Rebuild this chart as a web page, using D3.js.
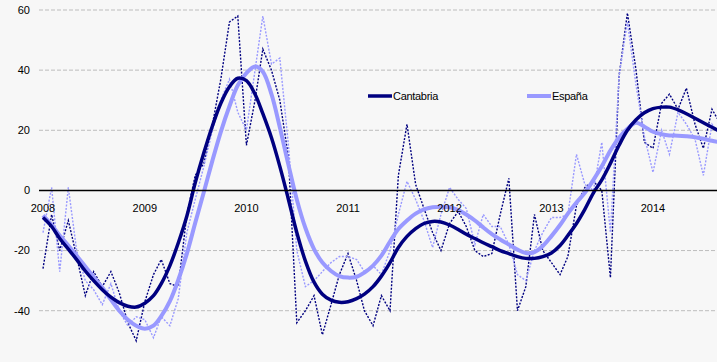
<!DOCTYPE html>
<html>
<head>
<meta charset="utf-8">
<script src="https://cdn.jsdelivr.net/npm/d3@7"></script>
<style>
  body { margin: 0; background: #f7f7f7; }
  svg { display: block; font-family: "Liberation Sans", Arial, sans-serif; }
</style>
</head>
<body>
<div id="chart"></div>
<script>
// monthly series, Jan 2008 .. Sep 2014
var startMonth = new Date(2008, 0, 1);
var yearTicks = [2008, 2009, 2010, 2011, 2012, 2013, 2014];
var yTicks = [60, 40, 20, 0, -20, -40];
var seriesNames = ["Cantabria", "España"];

var cantabriaRaw = [-26, -8, -20, -10, -22, -35, -27, -32, -27, -34, -44, -50,
  -37, -28, -23, -31, -32, -8, 5, 9, 22, 37, 56, 58,
  15, 30, 47, 40, 30, 11, -44, -40, -35, -48, -38, -28,
  -21, -30, -40, -45, -35, -40, 5, 22, 2, -6, -14, -20,
  -11, -7, -12, -20, -22, -21, -8, 4, -40, -32, -8, -20,
  -24, -28, -22, -5, 1, 3, 0, -29, 38, 59, 40, 16,
  14, 29, 32, 27, 34, 22, 14, 27, 22];

var espanaRaw = [-14, 1, -27, 1, -20, -30, -33, -38, -31, -40, -45, -42,
  -43, -49, -42, -45, -36, -14, -3, 8, 20, 30, 37, 26,
  20, 40, 58, 42, 44, 15, -20, -32, -30, -27, -24, -22,
  -22, -23, -27, -25, -28, -20, -8, 3, -3, -10, -19, -8,
  1, -3, -6, -18, -8, -12, -12, -18, -28, -30, -20, -14,
  -9, -9, -8, 12, 2, 0, 16, -14, 38, 56, 35, 18,
  6, 20, 12, 26, 22, 17, 5, 22, 18];

var cantabriaTrend = [-9, -12, -16, -19.5, -23, -26.8, -30, -33, -35.5, -37.3, -38.5, -38.8,
  -37.5, -35, -31, -25, -17.5, -8.5, 2.5, 12.5, 21.5, 29, 34.5, 37.3,
  36.5, 32, 25.5, 17.5, 8, -3, -14, -23.5, -30.5, -34.5, -36.5, -37.2,
  -37, -36, -34.5, -32, -28.5, -24, -19, -15.3, -12.7, -11, -10.3, -10.5,
  -11.5, -13, -14.6, -16, -17.4, -18.7, -20, -21, -22, -22.6, -22.6, -22,
  -20.8, -18.3, -15, -11, -6.3, -0.8, 3.5, 9, 15, 20, 23.5, 25.8,
  27.2, 27.7, 27.7, 26.8, 25.5, 24, 22.5, 21, 19.5];

var espanaTrend = [-8.3, -11.5, -15, -18.3, -21.7, -25.3, -28.8, -32.3, -36.3, -40, -43, -45,
  -46, -45, -41.8, -36.8, -29.8, -21, -10.8, -0.5, 10, 19.5, 28, 35,
  39, 41.2, 39.5, 32, 21, 8.5, -3, -12.5, -19.5, -24, -26.8, -28.5,
  -29, -28.7, -27.3, -25, -21.7, -17, -12.8, -10, -7.7, -6.3, -5.6, -5.4,
  -5.6, -6.5, -8, -10, -12.3, -14.5, -16.3, -18, -19.7, -20.8, -20.5, -18.5,
  -15.2, -11.5, -7.7, -4, -0.8, 3.5, 8, 13.3, 17.5, 20.5, 22.5, 21.2,
  19.5, 18.7, 18.3, 18.2, 18, 17.7, 17.2, 16.5, 16];

var width = 717, height = 362;
var colors = ["#000080", "#9999ff"];

var svg = d3.select("#chart").append("svg")
  .attr("width", width)
  .attr("height", height);

svg.append("rect").attr("width", width).attr("height", height).attr("fill", "#f7f7f7");

var x = d3.scaleTime()
  .domain([new Date(2008, 0, 1), new Date(2014, 0, 1)])
  .range([43, 653]);

var y = d3.scaleLinear()
  .domain([-40, 60])
  .range([310.7, 10]);

function monthDate(i) {
  return d3.timeMonth.offset(startMonth, i);
}

// grid
svg.append("g").selectAll("line")
  .data(yTicks.filter(function(d) { return d != 0; }))
  .enter().append("line")
  .attr("x1", 39).attr("x2", width)
  .attr("y1", function(d) { return y(d); })
  .attr("y2", function(d) { return y(d); })
  .attr("stroke", "#bdbdbd")
  .attr("stroke-width", 1)
  .attr("stroke-dasharray", "4,2");

svg.append("g").selectAll("text")
  .data(yTicks)
  .enter().append("text")
  .attr("x", 30)
  .attr("y", function(d) { return y(d); })
  .attr("dy", "0.35em")
  .attr("text-anchor", "end")
  .attr("font-size", 11)
  .text(function(d) { return d; });

// series lines
var line = d3.line()
  .x(function(d, i) { return x(monthDate(i)); })
  .y(function(d) { return y(d); });

var smooth = d3.line()
  .curve(d3.curveCatmullRom)
  .x(function(d, i) { return x(monthDate(i)); })
  .y(function(d) { return y(d); });

svg.append("path").datum(cantabriaRaw)
  .attr("d", line).attr("fill", "none")
  .attr("stroke", colors[0]).attr("stroke-width", 1.4)
  .attr("stroke-dasharray", "2,1.5");

svg.append("path").datum(espanaRaw)
  .attr("d", line).attr("fill", "none")
  .attr("stroke", colors[1]).attr("stroke-width", 1.4)
  .attr("stroke-dasharray", "2,1.5");

svg.append("path").datum(espanaTrend)
  .attr("d", smooth).attr("fill", "none")
  .attr("stroke", colors[1]).attr("stroke-width", 4);

svg.append("path").datum(cantabriaTrend)
  .attr("d", smooth).attr("fill", "none")
  .attr("stroke", colors[0]).attr("stroke-width", 3.5);

// zero axis + year labels
svg.append("line")
  .attr("x1", 39).attr("x2", width)
  .attr("y1", y(0)).attr("y2", y(0))
  .attr("stroke", "#000").attr("stroke-width", 1.5);

svg.append("g").selectAll("text")
  .data(yearTicks)
  .enter().append("text")
  .attr("x", function(d) { return x(new Date(d, 0, 1)); })
  .attr("y", y(0) + 22)
  .attr("text-anchor", "middle")
  .attr("font-size", 11)
  .text(function(d) { return d; });

// legend
var legendX = [368, 527];
var legend = svg.append("g").selectAll("g")
  .data(seriesNames)
  .enter().append("g")
  .attr("transform", function(d, i) { return "translate(" + legendX[i] + ",96)"; });

legend.append("line")
  .attr("x1", 0).attr("x2", 24)
  .attr("stroke", function(d, i) { return colors[i]; })
  .attr("stroke-width", function(d, i) { return i == 0 ? 3.5 : 4; });

legend.append("text")
  .attr("x", 25)
  .attr("dy", "0.35em")
  .attr("font-size", 11)
  .attr("letter-spacing", -0.3)
  .text(function(d) { return d; });
</script>
</body>
</html>
